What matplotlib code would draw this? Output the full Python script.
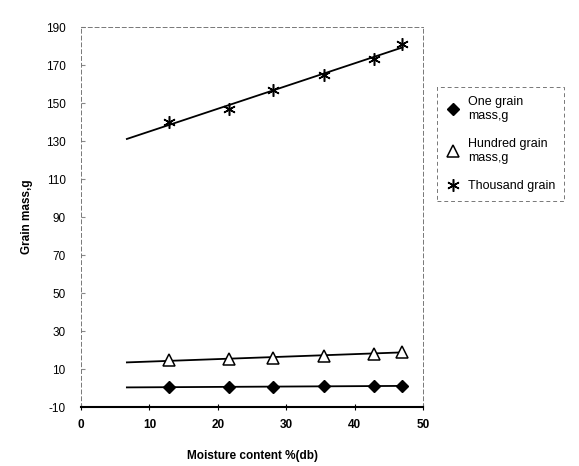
import matplotlib
matplotlib.use("Agg")
import matplotlib.pyplot as plt
import numpy as np

plt.rcParams['font.family'] = ['Liberation Sans', 'DejaVu Sans']
plt.rcParams['axes.unicode_minus'] = False

moisture = [12.9, 21.6, 28.0, 35.5, 42.8, 47.0]
one_grain = [0.5, 0.6, 0.7, 0.8, 1.0, 1.2]
hundred_grain = [14.5, 15.5, 16.0, 17.0, 18.0, 19.2]
thousand_grain = [140.0, 147.0, 157.0, 165.0, 173.0, 181.0]
trend_x = [6.7, 47.0]
y_ticks = list(range(-10, 191, 20))
x_ticks = [0, 10, 20, 30, 40, 50]

fig = plt.figure(figsize=(5.79, 4.66), dpi=100)
ax = fig.add_axes([0.14, 0.1266, 0.5906, 0.8154])

def trend(x, y):
    p = np.polyfit(x, y, 1)
    return np.polyval(p, trend_x)

ax.plot(trend_x, trend(moisture, one_grain), color='black', lw=1.3)
ax.plot(trend_x, trend(moisture, hundred_grain), color='black', lw=1.3)
ax.plot(trend_x, trend(moisture, thousand_grain), color='black', lw=1.3)

ax.plot(moisture, one_grain, linestyle='none', marker='D', ms=6, color='black',
        label='One grain\nmass,g')
ax.plot(moisture, hundred_grain, linestyle='none', marker='^', ms=8, mfc='white',
        mec='black', mew=1.1, label='Hundred grain\nmass,g')
ax.plot(moisture, thousand_grain, linestyle='none', marker=(6, 2, 0), ms=9,
        color='black', mew=1.1, label='Thousand grain')

ax.set_xlim(0, 50)
ax.set_ylim(-10, 190)
ax.set_xticks(x_ticks)
ax.set_yticks(y_ticks)
ax.tick_params(axis='x', direction='inout', length=5, labelsize=8.5, pad=6)
ax.tick_params(axis='y', direction='in', length=3, labelsize=8.5, pad=11, color='#888888')
for lab in ax.get_xticklabels():
    lab.set_fontweight('bold')

for s in ['top', 'right', 'left']:
    ax.spines[s].set_linestyle((0, (4, 3)))
    ax.spines[s].set_color('#777777')
    ax.spines[s].set_linewidth(0.7)
ax.spines['bottom'].set_linewidth(1.5)

ax.set_xlabel('Moisture content %(db)', fontsize=8.5, fontweight='bold', labelpad=14)
ax.set_ylabel('Grain mass,g', fontsize=8.5, fontweight='bold', labelpad=9)

leg = fig.legend(loc='upper left', bbox_to_anchor=(0.744, 0.826), fontsize=9,
                 frameon=True, fancybox=False, edgecolor='#555555',
                 handlelength=1.2, handletextpad=0.6, labelspacing=1.3, borderpad=0.7)
leg.get_frame().set_linestyle((0, (4, 3)))
leg.get_frame().set_linewidth(0.7)

fig.savefig('out.png', dpi=100)
